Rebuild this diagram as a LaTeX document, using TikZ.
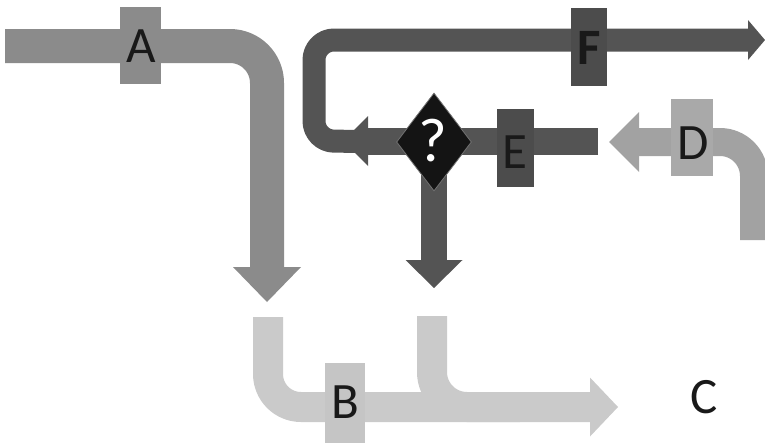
\documentclass[tikz,border=0pt]{standalone}
\usepackage{fontspec}
\setmainfont{Carlito}
\usetikzlibrary{arrows.meta,shapes.geometric}
\definecolor{midgray}{HTML}{8B8B8B}
\definecolor{darkgray}{HTML}{545454}
\definecolor{boxdark}{HTML}{4C4C4C}
\definecolor{softgray}{HTML}{A2A2A2}
\definecolor{lightgray}{HTML}{CACACA}
\definecolor{lightbox}{HTML}{C5C5C5}
\tikzset{
  band/.style={line cap=butt, line join=round},
  tag/.style={rectangle, inner sep=0pt, draw=none},
  letter/.style={font=\fontsize{51}{51}\selectfont, text=black!90, inner sep=0pt},
  head/.style n args={2}{-{Triangle[length=#1pt,width=#2pt,line width=0pt]}}
}
\begin{document}
\begin{tikzpicture}[x=1pt,y=-1pt]
  \useasboundingbox (0,0) rectangle (765,442);
  \clip (0,0) rectangle (765,442);

  % named points of the flows
  \coordinate (aIn) at (5,46);
  \coordinate (aBend) at (267,46);
  \coordinate (aOut) at (267,302);
  \coordinate (loopL) at (314,141);
  \coordinate (loopT) at (314,40);
  \coordinate (fOut) at (765,40);
  \coordinate (eIn) at (598,141);
  \coordinate (eOut) at (343,141);
  \coordinate (qOut) at (434,288);
  \coordinate (dIn) at (754,240);
  \coordinate (dBend) at (754,142);
  \coordinate (dOut) at (609,142);
  \coordinate (bIn) at (268,317);
  \coordinate (bBend) at (268,407);
  \coordinate (bOut) at (618,407);
  \coordinate (b2In) at (432,316);
  \coordinate (b2Bend) at (432,407);
  \coordinate (b2Join) at (520,407);
  \coordinate (qc) at (434,142);

  % flow A
  \draw[band, midgray, line width=34pt, rounded corners=37pt, head={35}{68}]
    (aIn) -- (aBend) -- (aOut);
  \node[tag, fill=midgray, minimum width=41pt, minimum height=77pt] (boxA) at (140.5,45.5) {};
  \node[letter] (labA) at (141,46) {A};

  % flow B merging into C
  \draw[band, lightgray, line width=30pt, rounded corners=35pt]
    (b2In) -- (b2Bend) -- (b2Join);
  \draw[band, lightgray, line width=30pt, rounded corners=33pt, head={28}{59}]
    (bIn) -- (bBend) -- (bOut);
  \node[tag, fill=lightbox, minimum width=40pt, minimum height=80pt] (boxB) at (345,403) {};
  \node[letter] (labB) at (345,402) {B};
  \node[letter] (labC) at (704,397) {C};

  % loop F
  \draw[band, darkgray, line width=23pt, rounded corners=20pt, head={17}{40}]
    (qc) -- (loopL) -- (loopT) -- (fOut);
  % flow E
  \draw[band, darkgray, line width=27pt, head={25}{50}] (eIn) -- (eOut);
  % branch down from the decision
  \draw[band, darkgray, line width=26pt, head={28}{57}] (qc) -- (qOut);

  % decision
  \node[diamond, fill=black!92, draw=black!55, line width=0.8pt, inner sep=0pt,
        minimum width=75pt, minimum height=98pt] (dec) at (qc) {};
  \node[font=\fontsize{62}{62}\selectfont, text=white, inner sep=0pt] (qm) at (433,141) {?};

  \node[tag, fill=boxdark, minimum width=37pt, minimum height=78pt] (boxE) at (515.5,148) {};
  \node[letter] (labE) at (515,152) {E};
  \node[tag, fill=boxdark, minimum width=36pt, minimum height=78pt] (boxF) at (589,47) {};
  \node[letter, font=\fontsize{51}{51}\bfseries] (labF) at (589,48) {F};

  % flow D
  \draw[band, softgray, line width=28pt, rounded corners=34pt, head={30}{60}]
    (dIn) -- (dBend) -- (dOut);
  \node[tag, fill=softgray!92!white, minimum width=42pt, minimum height=77pt] (boxD) at (692,137.5) {};
  \node[letter] (labD) at (693,143) {D};
\end{tikzpicture}
\end{document}
